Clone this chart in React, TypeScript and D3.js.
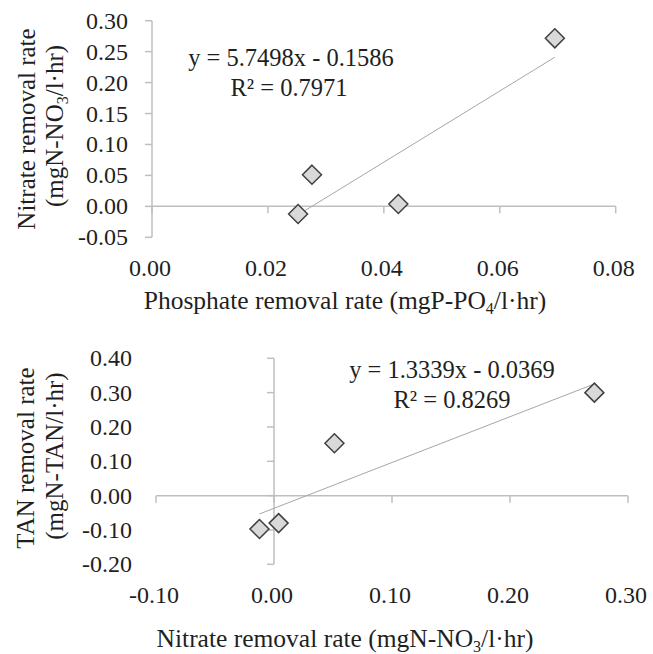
import React from "react";
import * as d3 from "d3";

// Data
const phosphate = [0.0252, 0.0276, 0.0425, 0.0695];
const nitrate = [-0.0123, 0.0512, 0.0039, 0.2715];
const tan = [-0.097, 0.1526, -0.08, 0.3];

const fitTopSlope = 5.7498;
const fitTopIntercept = -0.1586;
const fitTopR2 = "0.7971";
const fitBotSlope = 1.3339;
const fitBotIntercept = -0.0369;
const fitBotR2 = "0.8269";

const topYTicks = [-0.05, 0, 0.05, 0.1, 0.15, 0.2, 0.25, 0.3];
const topXTicks = [0, 0.02, 0.04, 0.06, 0.08];
const botYTicks = [-0.2, -0.1, 0, 0.1, 0.2, 0.3, 0.4];
const botXTicks = [-0.1, 0, 0.1, 0.2, 0.3];

const FONT = "'Liberation Serif', 'Times New Roman', serif";
const TEXT = "#1f1f1f";
const AXIS = "#bfbfbf";
const fmt = (v: number) => (Math.abs(v) < 1e-9 ? 0 : v).toFixed(2);

function Diamond({ cx, cy }: { cx: number; cy: number }) {
  const r = 9.5;
  return (
    <path
      d={`M${cx},${cy - r}L${cx + r},${cy}L${cx},${cy + r}L${cx - r},${cy}Z`}
      fill="#d9d9d9"
      stroke="#404040"
      strokeWidth={1.5}
    />
  );
}

export default function App() {
  // Top chart scales
  const x1 = d3.scaleLinear().domain([0, 0.08]).range([152, 615.7]);
  const y1 = d3.scaleLinear().domain([-0.05, 0.3]).range([237.3, 20.7]);
  // Bottom chart scales
  const x2 = d3.scaleLinear().domain([-0.1, 0.3]).range([156, 628]);
  const y2 = d3.scaleLinear().domain([-0.2, 0.4]).range([564.3, 358.3]);

  const tick = 7;

  const p1 = d3.extent(phosphate) as [number, number];
  const line1 = d3.line<number>()
    .x((d) => x1(d))
    .y((d) => y1(fitTopSlope * d + fitTopIntercept))(p1);
  const n1 = d3.extent(nitrate) as [number, number];
  const line2 = d3.line<number>()
    .x((d) => x2(d))
    .y((d) => y2(fitBotSlope * d + fitBotIntercept))(n1);

  return (
    <svg
      width={653}
      height={654}
      style={{ position: "absolute", left: 0, top: 0, background: "#fff" }}
      fontFamily={FONT}
      fill={TEXT}
    >
      <rect width={653} height={654} fill="#fff" />
      {/* ===== Top chart ===== */}
      <g>
        <line x1={x1(0)} x2={x1(0)} y1={y1(0.3)} y2={y1(-0.05)} stroke={AXIS} strokeWidth={1.5} />
        {topYTicks.map((t) => (
          <g key={"ty" + t}>
            <line x1={x1(0) - tick} x2={x1(0)} y1={y1(t)} y2={y1(t)} stroke={AXIS} strokeWidth={1.5} />
            <text x={128} y={y1(t) + 8} textAnchor="end" fontSize={24}>
              {fmt(t)}
            </text>
          </g>
        ))}
        <line x1={x1(0)} x2={x1(0.08)} y1={y1(0)} y2={y1(0)} stroke={AXIS} strokeWidth={1.5} />
        {topXTicks.map((t) => (
          <g key={"tx" + t}>
            <line x1={x1(t)} x2={x1(t)} y1={y1(0)} y2={y1(0) + tick} stroke={AXIS} strokeWidth={1.5} />
            <text x={x1(t) - 2} y={276} textAnchor="middle" fontSize={24}>
              {fmt(t)}
            </text>
          </g>
        ))}
        <path d={line1 || ""} fill="none" stroke="#a6a6a6" strokeWidth={1} />
        {phosphate.map((p, i) => (
          <Diamond key={"d1" + i} cx={x1(p)} cy={y1(nitrate[i])} />
        ))}
        <text x={291} y={66} textAnchor="middle" fontSize={24.5}>
          {`y = ${fitTopSlope}x - ${Math.abs(fitTopIntercept)}`}
        </text>
        <text x={289} y={96} textAnchor="middle" fontSize={24.5}>
          {`R² = ${fitTopR2}`}
        </text>
        <text x={345} y={309} textAnchor="middle" fontSize={25.5}>
          Phosphate removal rate (mgP-PO
          <tspan dy={5} fontSize={16}>4</tspan>
          <tspan dy={-5}>/l·hr)</tspan>
        </text>
        <text transform="translate(35,129) rotate(-90)" textAnchor="middle" fontSize={25}>
          Nitrate removal rate
        </text>
        <text transform="translate(63,126) rotate(-90)" textAnchor="middle" fontSize={25}>
          (mgN-NO
          <tspan dy={5} fontSize={16}>3</tspan>
          <tspan dy={-5}>/l·hr)</tspan>
        </text>
      </g>

      {/* ===== Bottom chart ===== */}
      <g>
        <line x1={x2(0)} x2={x2(0)} y1={y2(0.4)} y2={y2(-0.2)} stroke={AXIS} strokeWidth={1.5} />
        {botYTicks.map((t) => (
          <g key={"by" + t}>
            <line x1={x2(0) - tick} x2={x2(0)} y1={y2(t)} y2={y2(t)} stroke={AXIS} strokeWidth={1.5} />
            <text x={132} y={y2(t) + 8} textAnchor="end" fontSize={24}>
              {fmt(t)}
            </text>
          </g>
        ))}
        <line x1={x2(-0.1)} x2={x2(0.3)} y1={y2(0)} y2={y2(0)} stroke={AXIS} strokeWidth={1.5} />
        {botXTicks.map((t) => (
          <g key={"bx" + t}>
            <line x1={x2(t)} x2={x2(t)} y1={y2(0)} y2={y2(0) + tick} stroke={AXIS} strokeWidth={1.5} />
            <text x={x2(t) - 2} y={603} textAnchor="middle" fontSize={24}>
              {fmt(t)}
            </text>
          </g>
        ))}
        <path d={line2 || ""} fill="none" stroke="#a6a6a6" strokeWidth={1} />
        {nitrate.map((n, i) => (
          <Diamond key={"d2" + i} cx={x2(n)} cy={y2(tan[i])} />
        ))}
        <text x={452} y={378} textAnchor="middle" fontSize={24.5}>
          {`y = ${fitBotSlope}x - ${Math.abs(fitBotIntercept)}`}
        </text>
        <text x={452} y={408} textAnchor="middle" fontSize={24.5}>
          {`R² = ${fitBotR2}`}
        </text>
        <text x={345} y={647} textAnchor="middle" fontSize={25.5}>
          Nitrate removal rate (mgN-NO
          <tspan dy={5} fontSize={16}>3</tspan>
          <tspan dy={-5}>/l·hr)</tspan>
        </text>
        <text transform="translate(34,458) rotate(-90)" textAnchor="middle" fontSize={25}>
          TAN removal rate
        </text>
        <text transform="translate(63,456) rotate(-90)" textAnchor="middle" fontSize={25}>
          (mgN-TAN/l·hr)
        </text>
      </g>
    </svg>
  );
}
